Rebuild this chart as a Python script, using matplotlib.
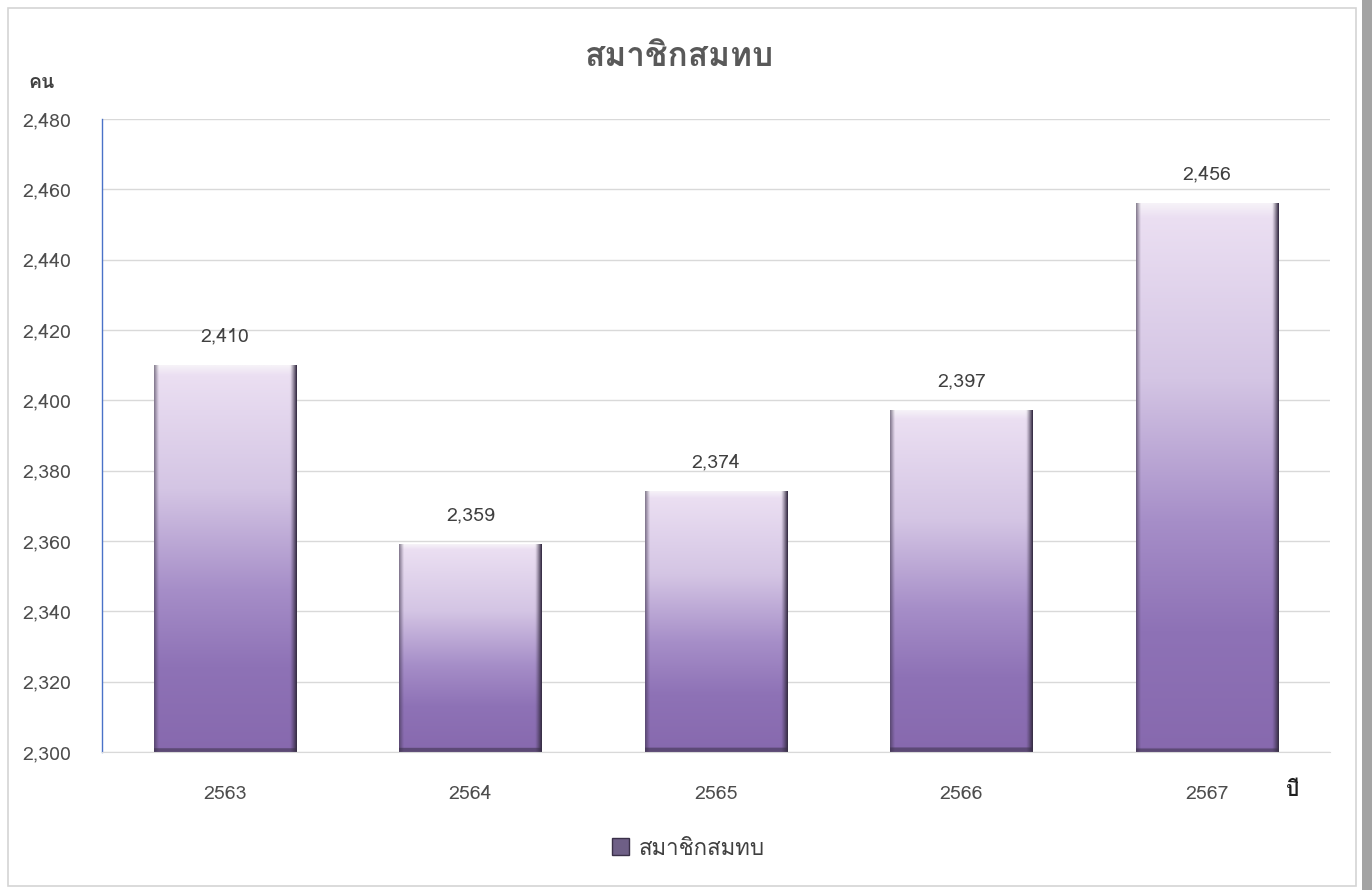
import matplotlib
matplotlib.use("Agg")
import matplotlib.pyplot as plt
import numpy as np
from matplotlib.patches import Rectangle
from matplotlib.colors import to_rgb
from matplotlib.ticker import FuncFormatter, MultipleLocator

plt.rcParams['font.family'] = ['Loma', 'DejaVu Sans']

# ---- data ----
years = ['2563', '2564', '2565', '2566', '2567']
members = [2410, 2359, 2374, 2397, 2456]
title = 'สมาชิกสมทบ'
series_name = 'สมาชิกสมทบ'
y_unit = 'คน'
x_unit = 'ปี'
y_min, y_max, y_step = 2300, 2480, 20

W, H = 1372, 890
fig = plt.figure(figsize=(W / 100, H / 100), dpi=100)
fig.patch.set_facecolor('white')

# outer frame and right gray strip
fig.add_artist(Rectangle((8 / W, 1 - 886 / H), (1356 - 8) / W, (886 - 8) / H,
                         transform=fig.transFigure, fill=False,
                         edgecolor='#d4d4d4', linewidth=1.2))
fig.add_artist(Rectangle((1362 / W, 0), 10 / W, 1, transform=fig.transFigure,
                         facecolor='#a3a3a3', edgecolor='none'))

ax = fig.add_axes([102 / W, 1 - 752 / H, (1330 - 102) / W, (752 - 119) / H])
ax.set_facecolor('white')

x = np.arange(len(years))
bw = 0.58
bars = ax.bar(x, [v - y_min for v in members], bottom=y_min, width=bw,
              color='none', edgecolor='none', zorder=2)

# gradient fill for each bar
stops = [(0.0, '#f6f2f8'), (0.025, '#ebdff2'), (0.32, '#d4c5e4'),
         (0.58, '#a68ec8'), (0.78, '#8e72b6'), (1.0, '#8769ae')]
nrow, ncol = 300, 120
tt = np.linspace(0, 1, nrow)
sp = np.array([s[0] for s in stops])
cols = np.array([to_rgb(s[1]) for s in stops])
vert = np.stack([np.interp(tt, sp, cols[:, k]) for k in range(3)], axis=1)
img = np.repeat(vert[:, None, :], ncol, axis=1)
u = np.linspace(0, 1, ncol)
dark = np.array(to_rgb('#3a3048'))
wr = np.clip((u - 0.955) / 0.045, 0, 1) ** 1.2
wl = np.clip((0.03 - u) / 0.03, 0, 1) * 0.55
wh = np.maximum(wr, wl)
img = img * (1 - wh[None, :, None]) + dark[None, None, :] * wh[None, :, None]

for rect in bars:
    x0 = rect.get_x()
    x1 = x0 + rect.get_width()
    y0 = rect.get_y()
    y1 = y0 + rect.get_height()
    im = img.copy()
    hpx = (y1 - y0) / (y_max - y_min) * 633
    nb = max(1, int(round(nrow * 4 / hpx)))
    im[-nb:, :, :] = im[-nb:, :, :] * 0.45 + dark * 0.55
    ax.imshow(im, extent=(x0, x1, y0, y1), aspect='auto', origin='upper',
              zorder=2, interpolation='bilinear')

for xi, v in zip(x, members):
    ax.annotate(f'{v:,}', (xi, v), xytext=(0, 21), textcoords='offset points',
                ha='center', va='center', fontsize=14, color='#404040')

ax.set_xlim(-0.5, len(years) - 0.5)
ax.set_ylim(y_min, y_max)
ax.yaxis.set_major_locator(MultipleLocator(y_step))
ax.yaxis.set_major_formatter(FuncFormatter(lambda v, p: f'{int(v):,}'))
ax.set_xticks(x)
ax.set_xticklabels(years)
ax.tick_params(axis='x', length=0, pad=24, labelsize=14, labelcolor='#4d4d4d')
ax.tick_params(axis='y', length=0, pad=22, labelsize=14, labelcolor='#4d4d4d')
for lab in ax.get_yticklabels():
    lab.set_horizontalalignment('right')
ax.yaxis.grid(True, color='#d9d9d9', linewidth=1.0, zorder=0)
ax.set_axisbelow(True)
for s in ['top', 'right']:
    ax.spines[s].set_visible(False)
ax.spines['bottom'].set_color('#d9d9d9')
ax.spines['left'].set_color('#4a72c8')
ax.spines['left'].set_linewidth(1.0)

fig.text(680 / W, 1 - 57 / H, title, ha='center', va='center', fontsize=24,
         fontweight='bold', color='#595959')
fig.text(42 / W, 1 - 83 / H, y_unit, ha='center', va='center', fontsize=14,
         fontweight='bold', color='#404040')
fig.text(1293 / W, 1 - 790 / H, x_unit, ha='center', va='center', fontsize=15,
         fontweight='bold', color='#202020')

handle = Rectangle((0, 0), 1, 1, facecolor='#6e5f86', edgecolor='#3a3048')
fig.legend([handle], [series_name], loc='center', bbox_to_anchor=(688 / W, 1 - 849 / H),
           frameon=False, fontsize=16, handlelength=0.8, handleheight=0.8,
           handletextpad=0.4, labelcolor='#404040')

fig.savefig('out.png', dpi=100)
